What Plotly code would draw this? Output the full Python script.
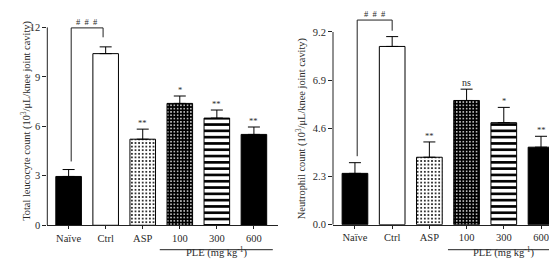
import plotly.graph_objects as go

W, H = 557, 265

groups = ["Naïve", "Ctrl", "ASP", "100", "300", "600"]
leuko_mean = [2.96, 10.41, 5.22, 7.39, 6.50, 5.51]
leuko_err = [0.42, 0.41, 0.61, 0.45, 0.49, 0.45]
leuko_sig = ["", "", "**", "*", "**", "**"]
leuko_ticks = [0, 3, 6, 9, 12]

neut_mean = [2.45, 8.51, 3.22, 5.93, 4.87, 3.70]
neut_err = [0.51, 0.47, 0.73, 0.54, 0.73, 0.52]
neut_sig = ["", "", "**", "ns", "*", "**"]
neut_ticks = [0.0, 2.3, 4.6, 6.9, 9.2]

FONT = "Liberation Serif"
TXT = "#2a2a2a"
LINE = "#222222"

# per-group bar styling
styles = [
    dict(color="black"),
    dict(color="white"),
    dict(color="white", pattern=dict(shape=".", bgcolor="white", fgcolor="black",
                                     size=3.6, solidity=0.22, fillmode="replace")),
    dict(color="black", pattern=dict(shape=".", bgcolor="black", fgcolor="white",
                                     size=3.3, solidity=0.18, fillmode="replace")),
    dict(color="white", pattern=dict(shape="-", bgcolor="white", fgcolor="black",
                                     size=6.3, solidity=0.42, fillmode="replace")),
    dict(color="black"),
]


def px_x(p):
    return p / W


def px_y(p):
    return 1 - p / H


fig = go.Figure()
for xa, ya, means, errs in [("x", "y", leuko_mean, leuko_err), ("x2", "y2", neut_mean, neut_err)]:
    for i in range(len(groups)):
        st = styles[i]
        marker = dict(color=st["color"], line=dict(color="black", width=1))
        if "pattern" in st:
            marker["pattern"] = st["pattern"]
        fig.add_trace(go.Bar(
            x=[i], y=[means[i]], xaxis=xa, yaxis=ya, width=0.69,
            marker=marker,
            error_y=dict(type="data", symmetric=False, array=[errs[i]],
                         arrayminus=[0], color="black", thickness=1, width=6),
            showlegend=False, hoverinfo="skip",
        ))

xcommon = dict(tickmode="array", tickvals=list(range(6)), ticktext=groups,
               showline=True, linecolor=LINE, linewidth=1, ticks="outside",
               ticklen=3, tickcolor=LINE, showgrid=False, zeroline=False,
               tickfont=dict(family=FONT, size=10.5, color=TXT), fixedrange=True)
ycommon = dict(showline=False, ticks="outside", ticklen=4, tickcolor=LINE,
               showgrid=False, zeroline=False,
               tickfont=dict(family=FONT, size=10.5, color=TXT), fixedrange=True)

fig.update_layout(
    width=W, height=H,
    margin=dict(l=0, r=0, t=0, b=0),
    paper_bgcolor="white", plot_bgcolor="white",
    barmode="overlay",
    xaxis=dict(domain=[px_x(39.3), px_x(270)], range=[-0.575, 5.65], anchor="y", **xcommon),
    yaxis=dict(domain=[px_y(222.3), 1], range=[0, 222.3 / 16.87], anchor="x",
               tickvals=leuko_ticks, ticktext=[str(v) for v in leuko_ticks], **ycommon),
    xaxis2=dict(domain=[px_x(325), 1], range=[-0.59, 5.645], anchor="y2", **xcommon),
    yaxis2=dict(domain=[px_y(221.7), 1], range=[0, 221.7 / 21.43], anchor="x2",
                tickvals=neut_ticks, ticktext=[f"{v:.1f}" for v in neut_ticks], **ycommon),
)

shapes = []
annots = []
# y-axis lines ending at top tick
shapes.append(dict(type="line", xref="x domain", yref="y", x0=0, x1=0, y0=0, y1=12,
                   line=dict(color=LINE, width=1)))
shapes.append(dict(type="line", xref="x2 domain", yref="y2", x0=0, x1=0, y0=0, y1=9.2,
                   line=dict(color=LINE, width=1)))

# brackets
for xa, ya, top, yl, yr, xl, xr in [("x", "y", 11.97, 3.87, 11.4, 0.07, 0.93),
                                    ("x2", "y2", 9.77, 3.27, 9.26, 0.06, 1.0)]:
    shapes.append(dict(type="path", xref=xa, yref=ya,
                       path=f"M {xl},{yl} L {xl},{top} L {xr},{top} L {xr},{yr}",
                       line=dict(color=LINE, width=1)))
    annots.append(dict(xref=xa, yref=ya, x=(xl + xr) / 2, y=top, text="#\u2002#\u2002#",
                       showarrow=False, yanchor="bottom", yshift=-1,
                       font=dict(family=FONT, size=8.5, color=TXT)))

# significance marks
for xa, ya, means, errs, sigs in [("x", "y", leuko_mean, leuko_err, leuko_sig),
                                  ("x2", "y2", neut_mean, neut_err, neut_sig)]:
    for i, s in enumerate(sigs):
        if s:
            annots.append(dict(xref=xa, yref=ya, x=i, y=means[i] + errs[i], text=s,
                               showarrow=False, yanchor="bottom", yshift=-1,
                               font=dict(family=FONT, size=10 if s == "ns" else 8.5, color=TXT)))

# PLE group lines and labels
for xa, x0, x1 in [("x", 2.46, 5.51), ("x2", 2.5, 5.5)]:
    shapes.append(dict(type="line", xref=xa, yref="paper", x0=x0, x1=x1,
                       y0=px_y(247.3), y1=px_y(247.3), line=dict(color=LINE, width=1)))
    annots.append(dict(xref=xa, yref="paper", x=(x0 + x1) / 2, y=px_y(258.5),
                       text="PLE (mg kg<sup>-1</sup>)", showarrow=False,
                       font=dict(family=FONT, size=10.5, color=TXT)))

# axis titles
annots.append(dict(xref="paper", yref="paper", x=px_x(10), y=px_y(116),
                   text="Total leucocyte count (10<sup>3</sup>/μL/knee joint cavity)",
                   textangle=-90, showarrow=False,
                   font=dict(family=FONT, size=10.4, color=TXT)))
annots.append(dict(xref="paper", yref="paper", x=px_x(293), y=px_y(124),
                   text="Neutrophil count (10<sup>3</sup>/μL/knee joint cavity)",
                   textangle=-90, showarrow=False,
                   font=dict(family=FONT, size=10.4, color=TXT)))

fig.update_layout(shapes=shapes, annotations=annots)
fig.write_html("out.html")
